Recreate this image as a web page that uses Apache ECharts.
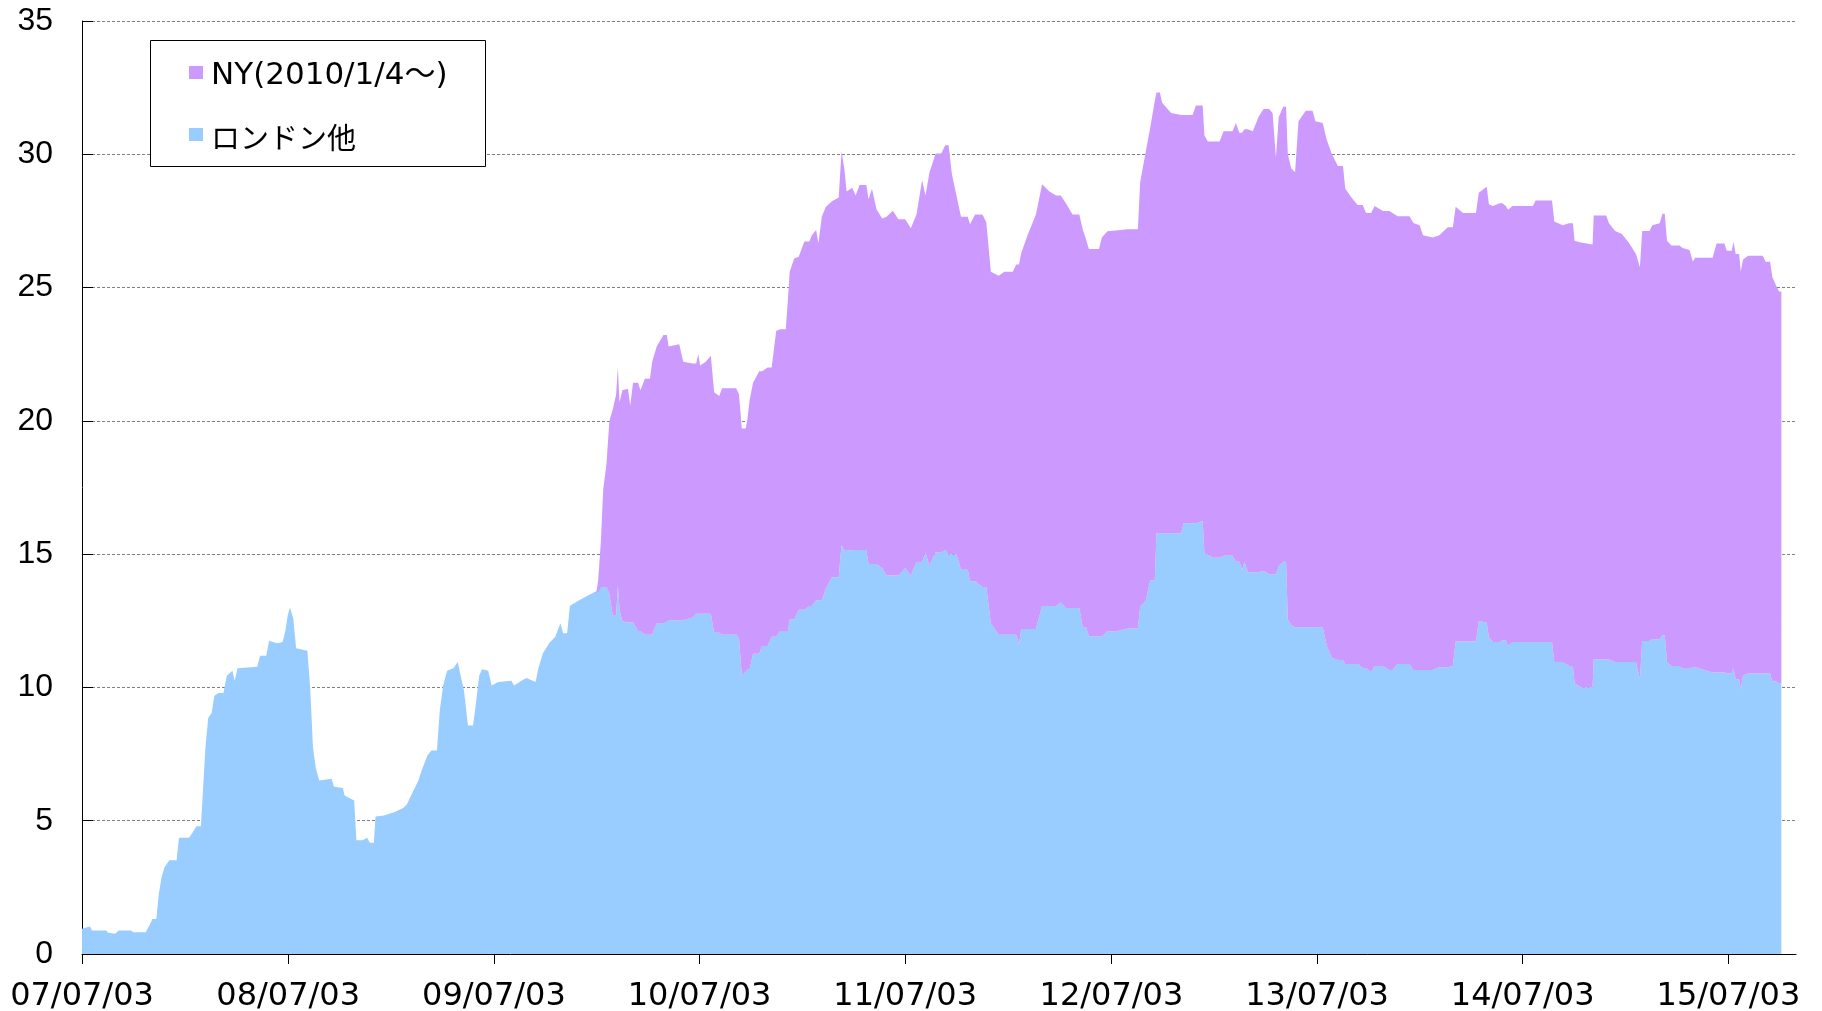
<!DOCTYPE html>
<html>
<head>
<meta charset="utf-8">
<script src="https://cdn.jsdelivr.net/npm/echarts@6/dist/echarts.min.js"></script>
<style>
html,body{margin:0;padding:0;background:#fff;}
#chart{width:1822px;height:1011px;}
</style>
</head>
<body>
<div id="chart"></div>
<script>
// ---------- data ----------
const seriesNames = ['NY(2010/1/4～)', 'ロンドン他'];
const nyStart = '2010-01-04';

const dates = [
 '2007-07-03','2007-07-17','2007-07-21','2007-08-15','2007-08-18','2007-08-31','2007-09-06','2007-09-28','2007-10-02','2007-10-24','2007-10-31','2007-11-05','2007-11-12','2007-11-16','2007-11-21','2007-11-26','2007-12-05','2007-12-18','2007-12-22',
 '2008-01-09','2008-01-14','2008-01-22','2008-01-30','2008-02-03','2008-02-07','2008-02-12','2008-02-18','2008-02-23','2008-03-01','2008-03-10','2008-03-16','2008-03-26','2008-03-30','2008-04-04','2008-05-09','2008-05-14','2008-05-25','2008-05-30','2008-06-13','2008-06-23','2008-06-28','2008-07-02','2008-07-06','2008-07-12','2008-07-17','2008-08-06','2008-08-11','2008-08-16','2008-08-21','2008-08-27','2008-09-18','2008-09-22','2008-10-08','2008-10-11','2008-10-28','2008-11-01','2008-11-12','2008-11-20','2008-11-25','2008-12-02','2008-12-05','2008-12-20',
 '2009-01-08','2009-01-23','2009-01-30','2009-02-06','2009-02-19','2009-02-25','2009-03-07','2009-03-14','2009-03-24','2009-03-29','2009-04-04','2009-04-11','2009-04-22','2009-04-30','2009-05-05','2009-05-11','2009-05-18','2009-05-27','2009-05-30','2009-06-07','2009-06-12','2009-06-23','2009-06-29','2009-07-11','2009-08-03','2009-08-08','2009-08-21','2009-08-30','2009-09-15','2009-09-20','2009-09-28','2009-10-09','2009-10-20','2009-10-29','2009-11-03','2009-11-10','2009-11-15','2009-11-30','2009-12-16','2009-12-25','2010-01-01',
 '2010-01-04','2010-01-09','2010-01-13','2010-01-19','2010-01-24','2010-01-30','2010-02-05','2010-02-08','2010-02-11','2010-02-16','2010-02-26','2010-03-02','2010-03-07','2010-03-16','2010-03-20','2010-03-28','2010-04-06','2010-04-10','2010-04-18','2010-04-30','2010-05-06','2010-05-09','2010-05-28','2010-06-04','2010-06-21','2010-06-27','2010-07-01','2010-07-04','2010-07-14','2010-07-23','2010-07-29','2010-08-07','2010-08-12','2010-09-06','2010-09-11','2010-09-16','2010-09-23','2010-09-26','2010-09-30','2010-10-06','2010-10-17','2010-10-22','2010-11-01','2010-11-08','2010-11-16','2010-11-23','2010-12-03','2010-12-07','2010-12-10','2010-12-18','2010-12-26',
 '2011-01-05','2011-01-14','2011-01-18','2011-01-26','2011-01-30','2011-02-05','2011-02-12','2011-02-23','2011-03-07','2011-03-12','2011-03-17','2011-03-21','2011-03-31','2011-04-06','2011-04-13','2011-04-25','2011-04-29','2011-05-05','2011-05-13','2011-05-23','2011-05-31','2011-06-11','2011-06-21','2011-07-03','2011-07-13','2011-07-23','2011-08-02','2011-08-08','2011-08-15','2011-08-26','2011-09-05','2011-09-12','2011-09-18','2011-09-24','2011-10-02','2011-10-10','2011-10-22','2011-10-26','2011-11-04','2011-11-17','2011-11-24','2011-12-02','2011-12-16','2011-12-26',
 '2012-01-10','2012-01-16','2012-01-21','2012-01-25','2012-02-05','2012-02-20','2012-03-02','2012-03-15','2012-03-27','2012-04-04','2012-04-13','2012-04-25','2012-05-07','2012-05-13','2012-05-19','2012-05-24','2012-06-11','2012-06-16','2012-06-26','2012-07-11','2012-08-01','2012-08-19','2012-08-23','2012-09-02','2012-09-10','2012-09-18','2012-09-21','2012-09-27','2012-10-01','2012-10-17','2012-11-04','2012-11-08','2012-11-24','2012-11-30','2012-12-12','2012-12-15','2012-12-21','2012-12-29',
 '2013-01-11','2013-01-18','2013-02-03','2013-02-09','2013-02-15','2013-02-20','2013-02-24','2013-03-02','2013-03-11','2013-03-21','2013-03-30','2013-04-09','2013-04-15','2013-04-21','2013-04-26','2013-05-04','2013-05-09','2013-05-12','2013-05-18','2013-05-25','2013-05-31','2013-06-13','2013-06-25','2013-06-30','2013-07-13','2013-07-20','2013-07-29','2013-08-09','2013-08-18','2013-08-22','2013-09-01','2013-09-13','2013-09-22','2013-09-28','2013-10-07','2013-10-13','2013-10-28','2013-11-08','2013-11-14','2013-11-23','2013-12-14','2013-12-21',
 '2014-01-01','2014-01-07','2014-01-24','2014-02-05','2014-02-20','2014-03-01','2014-03-06','2014-03-19','2014-04-11','2014-04-16','2014-04-30','2014-05-04','2014-05-11','2014-05-23','2014-05-28','2014-06-03','2014-06-07','2014-06-15','2014-07-21','2014-07-26','2014-08-24','2014-08-28','2014-09-12','2014-09-23','2014-09-30','2014-10-03','2014-10-14','2014-11-04','2014-11-06','2014-11-28','2014-12-03','2014-12-14','2014-12-26',
 '2015-01-07','2015-01-20','2015-01-27','2015-01-31','2015-02-13','2015-02-18','2015-03-03','2015-03-08','2015-03-12','2015-03-16','2015-03-24','2015-04-07','2015-04-13','2015-04-25','2015-05-01','2015-05-05','2015-06-05','2015-06-12','2015-06-26','2015-06-30','2015-07-09','2015-07-12','2015-07-16','2015-07-22','2015-07-25','2015-07-29','2015-08-07','2015-09-02','2015-09-07','2015-09-15','2015-09-19','2015-09-25','2015-10-01','2015-10-05'
];

// ロンドン他 (bottom layer)
const london = [
 0.95,1.03,0.88,0.88,0.80,0.76,0.88,0.88,0.82,0.82,1.09,1.31,1.31,2.2,2.86,3.24,3.52,3.52,4.36,
 4.36,4.51,4.79,4.79,6.23,7.73,8.85,9.04,9.69,9.79,9.79,10.44,10.63,10.25,10.72,10.78,11.19,11.19,11.75,11.66,11.7,12.13,12.69,13.0,12.59,11.47,11.38,9.97,7.73,6.98,6.51,6.57,6.27,6.23,5.95,5.76,4.27,4.27,4.36,4.17,4.17,5.16,5.2,
 5.33,5.48,5.63,5.95,6.51,6.89,7.45,7.63,7.63,9.13,10.07,10.63,10.72,10.95,10.44,9.88,8.57,8.57,9.04,10.44,10.68,10.63,10.07,10.2,10.25,10.07,10.25,10.35,10.2,10.72,11.28,11.66,11.9,12.41,12.03,12.03,13.06,13.25,13.44,13.53,13.6,
 13.58,13.77,13.77,13.77,13.50,12.69,12.69,13.84,12.90,12.48,12.44,12.44,12.44,12.12,12.12,11.98,11.98,11.98,12.41,12.41,12.52,12.52,12.52,12.52,12.62,12.76,12.76,12.76,12.76,12.76,12.05,12.05,11.98,11.98,11.83,10.47,10.69,10.69,10.69,11.26,11.26,11.55,11.55,11.90,11.90,12.12,12.12,12.12,12.55,12.55,12.91,
 12.91,13.05,13.05,13.27,13.27,13.27,13.70,14.13,14.13,15.34,15.13,15.13,15.16,15.16,15.16,15.16,14.63,14.63,14.63,14.48,14.20,14.20,14.20,14.48,14.20,14.70,14.70,15.06,14.56,15.06,15.06,15.16,14.99,14.99,14.99,14.41,14.41,13.98,13.98,13.77,13.77,12.41,11.98,11.98,
 11.98,11.98,11.62,12.19,12.19,12.19,13.05,13.05,13.05,13.19,12.98,12.98,12.98,12.26,12.26,11.92,11.92,11.92,12.10,12.10,12.21,12.21,13.02,13.25,14.02,14.02,15.78,15.78,15.78,15.78,15.78,16.16,16.16,16.16,16.24,15.01,15.01,14.86,
 14.86,14.94,14.94,14.71,14.71,14.40,14.71,14.32,14.32,14.32,14.37,14.25,14.25,14.25,14.55,14.71,14.71,12.56,12.33,12.26,12.26,12.26,12.26,12.26,12.26,11.57,11.11,11.03,11.03,10.88,10.88,10.88,10.73,10.73,10.57,10.80,10.80,10.65,10.65,10.88,10.88,10.65,
 10.65,10.65,10.65,10.76,10.76,10.80,11.72,11.72,11.72,12.49,12.43,11.88,11.70,11.70,11.77,11.77,11.55,11.70,11.70,11.70,11.70,10.95,10.95,10.80,10.80,10.16,10.01,10.01,11.05,11.05,11.05,10.95,10.95,
 10.95,10.95,10.30,11.74,11.74,11.81,11.81,11.96,11.96,10.95,10.80,10.80,10.70,10.70,10.76,10.76,10.56,10.56,10.56,10.52,10.52,10.73,10.30,10.30,9.94,10.45,10.52,10.52,10.52,10.52,10.23,10.23,10.16,10.16
];

// NY (top layer), values from 2010-01-04 onward (none before)
const ny = [
 0.40,1.73,3.65,4.65,6.50,7.74,8.31,8.16,7.80,8.67,8.76,8.13,8.99,9.31,9.03,9.60,9.60,10.24,10.38,10.81,10.70,10.27,10.35,9.70,9.53,9.39,9.74,9.32,9.46,9.68,9.02,8.88,9.24,9.24,9.17,9.24,9.02,9.38,10.10,10.17,10.60,10.31,10.45,10.10,11.47,11.32,11.32,12.46,13.04,13.54,13.25,
 13.82,13.68,13.90,13.89,13.39,14.39,14.32,14.11,14.25,14.76,14.33,13.47,13.58,13.29,13.69,13.69,13.68,14.08,13.32,13.11,13.46,13.68,13.36,13.08,13.03,13.04,14.33,13.39,14.75,14.97,14.97,15.18,15.35,14.25,13.46,13.25,13.25,13.40,13.76,13.97,13.68,13.18,13.46,13.61,
 13.61,13.89,14.25,14.11,14.76,15.55,15.83,15.55,15.40,15.26,15.19,14.76,14.76,14.93,14.54,14.53,14.53,14.96,15.01,15.04,14.98,14.98,15.93,16.85,16.99,17.99,16.54,16.54,16.15,15.77,15.69,15.31,15.31,15.67,15.59,15.70,15.47,15.62,
 15.62,15.92,15.92,16.46,16.10,16.41,16.23,16.62,16.54,17.08,17.33,17.45,17.30,15.62,16.85,17.07,17.07,17.46,17.15,17.07,18.98,19.37,19.37,18.98,18.91,18.98,18.91,18.53,18.53,17.84,17.53,17.22,17.37,17.07,17.23,17.26,17.07,17.22,17.15,16.80,16.80,16.77,
 16.69,16.31,16.23,16.20,16.50,16.46,16.31,16.08,16.08,16.07,16.35,16.25,16.36,16.46,16.39,16.29,16.37,16.36,16.36,16.57,16.57,16.53,16.39,16.61,16.61,16.60,16.68,16.61,16.65,16.65,16.36,16.17,16.06,
 15.74,15.31,15.46,15.38,15.38,15.53,15.60,15.81,15.81,15.81,15.78,15.78,15.78,15.71,15.21,15.36,15.56,16.09,16.09,15.86,15.86,15.99,15.96,15.96,15.67,15.60,15.67,15.67,15.45,15.45,15.17,14.88,14.69,14.69
];

// axis ticks
const axisStart = '2007-07-03';
const axisEnd = '2015-10-31';
const tickDates = ['2007-07-03','2008-07-03','2009-07-03','2010-07-03','2011-07-03','2012-07-03','2013-07-03','2014-07-03','2015-07-03'];
const tickLabels = ['07/07/03','08/07/03','09/07/03','10/07/03','11/07/03','12/07/03','13/07/03','14/07/03','15/07/03'];
const yMin = 0, yMax = 35, yStep = 5;

// ---------- build ----------
function dayOf(s) {
  return Math.round((Date.parse(s + 'T00:00:00Z') - Date.parse(axisStart + 'T00:00:00Z')) / 86400000);
}
const nyOffset = dates.indexOf(nyStart);
if (london.length !== dates.length || ny.length !== dates.length - nyOffset) {
  throw new Error('length mismatch ' + dates.length + ' ' + london.length + ' ' + ny.length + ' ' + nyOffset);
}
const xs = dates.map(dayOf);
// rows are [value, day] so that the stack is applied to the value (y) dimension
const londonData = xs.map((x, i) => [london[i], x]);
// before the NY start date the NY layer has no height
const nyData = xs.map((x, i) => [i < nyOffset ? 0 : ny[i - nyOffset], x]);

const xMax = dayOf(axisEnd);
const yearTicks = tickDates.map(dayOf);
const quarterTicks = [];
tickDates.forEach(d => {
  const y = +d.slice(0, 4);
  [[y, 10], [y + 1, 1], [y + 1, 4]].forEach(([yy, mm]) => {
    const v = dayOf(yy + '-' + String(mm).padStart(2, '0') + '-03');
    if (v < xMax) quarterTicks.push(v);
  });
});

const black = '#000';
const baseX = {
  type: 'value', min: 0, max: xMax, position: 'bottom', gridIndex: 0,
  splitLine: { show: false }, minorTick: { show: false }
};

const chart = echarts.init(document.getElementById('chart'), null, { renderer: 'canvas' });
chart.setOption({
  animation: false,
  backgroundColor: '#fff',
  grid: { left: 82, right: 26, top: 21, bottom: 57, containLabel: false, outerBoundsMode: 'none' },
  xAxis: [
    Object.assign({}, baseX, {
      axisLine: { show: true, onZero: false, lineStyle: { color: black, width: 1 } },
      axisTick: { show: true, customValues: yearTicks, inside: false, length: 10, lineStyle: { color: black, width: 1 } },
      axisLabel: {
        show: true, customValues: yearTicks, margin: 27, color: black,
        fontFamily: 'DejaVu Sans', fontSize: 32,
        formatter: v => {
          const i = yearTicks.findIndex(t => Math.abs(t - v) < 0.5);
          return i >= 0 ? tickLabels[i] : '';
        }
      }
    }),
    Object.assign({}, baseX, {
      axisLine: { show: false, onZero: false },
      axisTick: { show: true, customValues: yearTicks, inside: true, length: 10, lineStyle: { color: black, width: 1 } },
      axisLabel: { show: false }
    }),
    Object.assign({}, baseX, {
      axisLine: { show: false, onZero: false },
      axisTick: { show: true, customValues: quarterTicks, inside: true, length: 7, lineStyle: { color: black, width: 1 } },
      axisLabel: { show: false }
    })
  ],
  yAxis: {
    type: 'value', min: yMin, max: yMax, interval: yStep,
    axisLine: { show: true, lineStyle: { color: black, width: 1 } },
    axisTick: { show: true, inside: true, length: 11, lineStyle: { color: black, width: 1 } },
    axisLabel: { color: black, fontFamily: 'Liberation Sans', fontSize: 32, margin: 29 },
    splitLine: { show: true, lineStyle: { color: '#808080', width: 1, type: [3, 2] } }
  },
  legend: {
    orient: 'vertical', left: 189, top: 54, padding: 0, itemGap: 26,
    itemWidth: 14, itemHeight: 13, icon: 'rect', z: 10,
    data: seriesNames,
    formatter: name => (name === seriesNames[0] ? '{lat|' + name + '}' : '{cjk|' + name + '}'),
    textStyle: {
      color: black, fontSize: 29, fontFamily: "'DejaVu Sans', 'Noto Sans CJK JP'",
      rich: {
        lat: { color: black, fontSize: 31, lineHeight: 31, fontFamily: "'DejaVu Sans', 'Noto Sans CJK JP'", padding: [6, 0, 0, 3] },
        cjk: { color: black, fontSize: 29, lineHeight: 29, fontFamily: "'Noto Sans CJK JP'", padding: [6, 0, 0, 3] }
      }
    },
    selectedMode: false
  },
  graphic: {
    elements: [{
      type: 'rect', z: 9, silent: true,
      shape: { x: 150.5, y: 40.5, width: 335, height: 126 },
      style: { fill: '#fff', stroke: black, lineWidth: 1 }
    }]
  },
  series: [
    {
      name: seriesNames[1], type: 'line', stack: 'total', data: londonData,
      encode: { x: 1, y: 0 },
      symbol: 'none', showSymbol: false, sampling: null, silent: true,
      lineStyle: { width: 0 }, itemStyle: { color: '#99CCFF' },
      areaStyle: { color: '#99CCFF', opacity: 1 }
    },
    {
      name: seriesNames[0], type: 'line', stack: 'total', data: nyData,
      encode: { x: 1, y: 0 },
      symbol: 'none', showSymbol: false, sampling: null, silent: true,
      lineStyle: { width: 0 }, itemStyle: { color: '#CC99FF' },
      areaStyle: { color: '#CC99FF', opacity: 1 }
    }
  ]
});
</script>
</body>
</html>
